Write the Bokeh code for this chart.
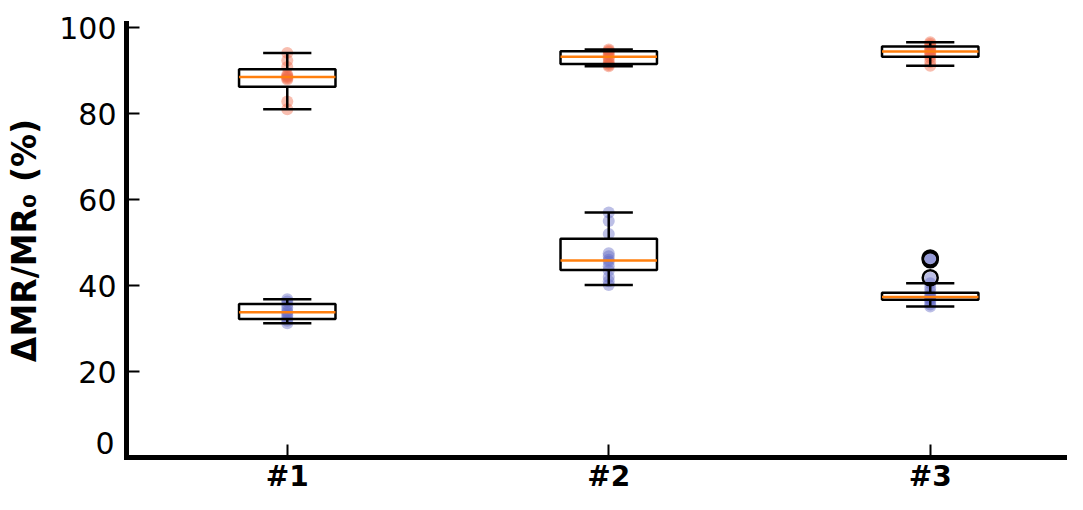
from bokeh.plotting import figure
from bokeh.models import Range1d, FixedTicker, Label
from bokeh.embed import file_html
from bokeh.resources import INLINE

categories = ["#1", "#2", "#3"]
y_ticks = [0, 20, 40, 60, 80, 100]

# high series (orange/red)
red_points = [
    [94.1, 92.3, 90.8, 89.0, 88.7, 88.5, 88.2, 87.9, 82.8, 81.0],
    [94.9, 94.6, 94.3, 93.8, 93.2, 92.8, 92.0, 91.6, 91.3, 91.0],
    [96.6, 96.2, 95.8, 95.3, 94.8, 94.4, 94.0, 93.5, 93.0, 92.0, 91.1],
]
red_q1 = [86.2, 91.5, 93.2]
red_med = [88.5, 93.2, 94.4]
red_q3 = [90.3, 94.5, 95.6]
red_lo = [81.0, 91.0, 91.1]
red_hi = [94.1, 94.9, 96.6]

# low series (blue)
blue_points = [
    [36.8, 36.3, 35.5, 34.8, 34.0, 33.6, 33.0, 32.4, 31.8, 31.2],
    [57.0, 55.0, 52.0, 47.5, 46.8, 46.0, 45.5, 44.5, 43.5, 42.0, 41.0, 40.1],
    [46.4, 46.0, 41.8, 40.5, 39.5, 38.6, 37.8, 37.4, 37.1, 36.8, 36.3, 35.6, 35.1],
]
blue_q1 = [32.2, 43.6, 36.7]
blue_med = [33.8, 45.8, 37.3]
blue_q3 = [35.7, 50.9, 38.3]
blue_lo = [31.2, 40.1, 35.1]
blue_hi = [36.8, 57.0, 40.5]

positions = [i + 1 for i in range(len(categories))]
BOX_W = 0.3
CAP_W = 0.15

W, H = 1067, 494
X_AX, Y_AX = 0.5, 0.0        # where the two spines sit (data units)
Y_TOP_SPINE = 101
# the frame spans the whole canvas; ranges chosen so the spines land where the reference has them
X_RANGE = (0.108, 3.427)
Y_RANGE = (-8.60, 106.28)

p = figure(width=W, height=H, x_range=Range1d(*X_RANGE), y_range=Range1d(*Y_RANGE),
           output_backend="svg", toolbar_location=None,
           min_border_left=0, min_border_right=0, min_border_top=0, min_border_bottom=0)
p.outline_line_color = None
p.grid.visible = False
p.background_fill_color = "white"

FONT = "DejaVu Sans"

for ax in (p.xaxis[0], p.yaxis[0]):
    ax.axis_line_width = 5
    ax.axis_line_color = "black"
    ax.axis_line_cap = "square"
    ax.major_tick_line_width = 2
    ax.major_tick_in = 13
    ax.major_tick_out = 0
    ax.minor_tick_line_color = None
    ax.major_label_text_font = FONT
    ax.major_label_text_color = "black"

p.yaxis.fixed_location = X_AX
p.yaxis.bounds = (Y_AX, Y_TOP_SPINE)
p.yaxis.ticker = FixedTicker(ticks=y_ticks)
p.yaxis.major_label_text_font_size = "30px"
p.yaxis.major_label_standoff = 10
p.yaxis.major_label_overrides = {0: ""}
p.yaxis.axis_label = "ΔMR/MR₀ (%)"
p.yaxis.axis_label_text_font = FONT
p.yaxis.axis_label_text_font_style = "bold"
p.yaxis.axis_label_text_font_size = "33px"
p.yaxis.axis_label_text_color = "black"
p.yaxis.axis_label_standoff = 12

p.xaxis.fixed_location = Y_AX
p.xaxis.bounds = (X_AX, X_RANGE[1])
p.xaxis.ticker = FixedTicker(ticks=positions)
p.xaxis.major_label_overrides = {pos: c for pos, c in zip(positions, categories)}
p.xaxis.major_label_text_font_size = "28px"
p.xaxis.major_label_text_font_style = "bold"
p.xaxis.major_label_standoff = 2

# "0" label sits slightly above its tick in the reference
p.add_layout(Label(x=X_AX, x_units="data", x_offset=-12, y=y_ticks[0], y_units="data", y_offset=15,
                   text="0", text_align="right", text_baseline="middle",
                   text_font=FONT, text_font_size="30px", text_color="black"))

def draw_group(points, q1, med, q3, lo, hi, color):
    xs, ys, oxs, oys = [], [], [], []
    for pos, pts, l, h in zip(positions, points, lo, hi):
        for v in pts:
            xs.append(pos)
            ys.append(v)
            if v > h + 1e-9 or v < l - 1e-9:
                oxs.append(pos)
                oys.append(v)
    p.scatter(xs, ys, size=12, fill_color=color, fill_alpha=0.42, line_color=None)
    left = [x - BOX_W / 2 for x in positions]
    right = [x + BOX_W / 2 for x in positions]
    cl = [x - CAP_W / 2 for x in positions]
    cr = [x + CAP_W / 2 for x in positions]
    p.segment(positions, q3, positions, hi, line_color="black", line_width=2.5)
    p.segment(positions, q1, positions, lo, line_color="black", line_width=2.5)
    p.segment(cl, hi, cr, hi, line_color="black", line_width=2.5)
    p.segment(cl, lo, cr, lo, line_color="black", line_width=2.5)
    p.quad(left=left, right=right, bottom=q1, top=q3, fill_color=None,
           line_color="black", line_width=2.5)
    p.segment(left, med, right, med, line_color="#ff7f0e", line_width=2.5)
    if oxs:
        p.scatter(oxs, oys, size=15, fill_color=None, line_color="black", line_width=2.5)

draw_group(red_points, red_q1, red_med, red_q3, red_lo, red_hi, "#ef6442")
draw_group(blue_points, blue_q1, blue_med, blue_q3, blue_lo, blue_hi, "#5f66c4")

open("out.html", "w").write(file_html(p, INLINE))
